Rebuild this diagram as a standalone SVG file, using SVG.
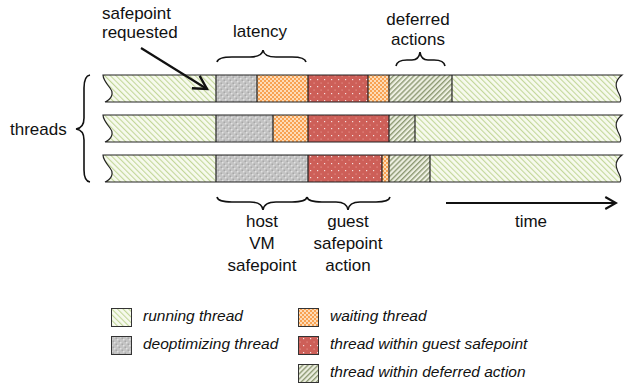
<svg xmlns="http://www.w3.org/2000/svg" width="624" height="383" viewBox="0 0 624 383">
<style>
.lbl{font-family:"Liberation Sans",Arial,sans-serif;font-size:17px;fill:#111}
.leg{font-family:"Liberation Sans",Arial,sans-serif;font-size:15.5px;font-style:italic;fill:#111}
.seg{stroke:#222;stroke-width:1.2}
.brace{fill:none;stroke:#111;stroke-width:1.6}
.outline{fill:none;stroke:#222;stroke-width:1.2}
</style>
<defs>
<pattern id="run" width="4" height="4" patternUnits="userSpaceOnUse" patternTransform="rotate(-45)">
<rect width="4" height="4" fill="#f7faee"/><rect width="1.1" height="4" fill="#c3d79a"/>
</pattern>
<pattern id="def" width="3.6" height="3.6" patternUnits="userSpaceOnUse" patternTransform="rotate(45)">
<rect width="3.6" height="3.6" fill="#eef0e2"/><rect width="1.4" height="3.6" fill="#8e9a74"/>
</pattern>
<pattern id="deopt" width="6" height="6" patternUnits="userSpaceOnUse">
<rect width="6" height="6" fill="#c4c4c4"/><rect x="0" y="0" width="1.5" height="1.5" fill="#e2e2e2"/><rect x="3" y="3" width="1.5" height="1.5" fill="#e2e2e2"/><rect x="1.5" y="1.5" width="1.5" height="1.5" fill="#a8a8a8"/><rect x="4.5" y="4.5" width="1.5" height="1.5" fill="#a8a8a8"/>
</pattern>
<pattern id="wait" width="4" height="4" patternUnits="userSpaceOnUse">
<rect width="4" height="4" fill="#fddcb8"/><rect width="2" height="2" fill="#f8a252"/><rect x="2" y="2" width="2" height="2" fill="#f8a252"/>
</pattern>
<pattern id="guest" width="7" height="7" patternUnits="userSpaceOnUse">
<rect width="7" height="7" fill="#cd5f58"/><rect x="2" y="2" width="1.2" height="1.2" fill="#fff" opacity="0.8"/><rect x="5.5" y="5.5" width="1.2" height="1.2" fill="#f2b0a8" opacity="0.6"/>
</pattern>
<marker id="ah" viewBox="0 0 12 12" refX="10" refY="6" markerWidth="8" markerHeight="8" orient="auto" markerUnits="strokeWidth">
<path d="M1,1 L10,6 L1,11" fill="none" stroke="#111" stroke-width="1.6"/>
</marker>
<marker id="ah2" viewBox="0 0 12 12" refX="10" refY="6" markerWidth="6.5" markerHeight="6.5" orient="auto" markerUnits="strokeWidth">
<path d="M1,1 L10,6 L1,11" fill="none" stroke="#111" stroke-width="1.8"/>
</marker>
</defs>

<g id="thread1">
<path d="M103,75 L216,75 L216,102 L105,102 C112,99 114,93 110,88 C106,83 103,79 103,75 Z" fill="url(#run)"/>
<rect x="216" y="75" width="41" height="27" fill="url(#deopt)"/>
<rect x="257" y="75" width="51" height="27" fill="url(#wait)"/>
<rect x="308" y="75" width="60" height="27" fill="url(#guest)"/>
<rect x="368" y="75" width="21" height="27" fill="url(#wait)"/>
<rect x="389" y="75" width="63" height="27" fill="url(#def)"/>
<path d="M452,75 L622,75 C617,79 615,84 617,89 C618,94 623,98 620,102 L452,102 Z" fill="url(#run)"/>
<path class="outline" d="M103,75 L622,75 C617,79 615,84 617,89 C618,94 623,98 620,102 L105,102 C112,99 114,93 110,88 C106,83 103,79 103,75 Z"/>
<path class="seg" d="M216,75V102M257,75V102M308,75V102M368,75V102M389,75V102M452,75V102"/>
</g>

<g id="thread2">
<path d="M103,115 L216,115 L216,142 L105,142 C112,139 114,133 110,128 C106,123 103,119 103,115 Z" fill="url(#run)"/>
<rect x="216" y="115" width="57" height="27" fill="url(#deopt)"/>
<rect x="273" y="115" width="35" height="27" fill="url(#wait)"/>
<rect x="308" y="115" width="81" height="27" fill="url(#guest)"/>
<rect x="389" y="115" width="26" height="27" fill="url(#def)"/>
<path d="M415,115 L622,115 C617,119 615,124 617,129 C618,134 623,138 620,142 L415,142 Z" fill="url(#run)"/>
<path class="outline" d="M103,115 L622,115 C617,119 615,124 617,129 C618,134 623,138 620,142 L105,142 C112,139 114,133 110,128 C106,123 103,119 103,115 Z"/>
<path class="seg" d="M216,115V142M273,115V142M308,115V142M389,115V142M415,115V142"/>
</g>

<g id="thread3">
<path d="M103,155 L216,155 L216,182 L105,182 C112,179 114,173 110,168 C106,163 103,159 103,155 Z" fill="url(#run)"/>
<rect x="216" y="155" width="92" height="27" fill="url(#deopt)"/>
<rect x="308" y="155" width="74" height="27" fill="url(#guest)"/>
<rect x="382" y="155" width="7" height="27" fill="url(#wait)"/>
<rect x="389" y="155" width="41" height="27" fill="url(#def)"/>
<path d="M430,155 L622,155 C617,159 615,164 617,169 C618,174 623,178 620,182 L430,182 Z" fill="url(#run)"/>
<path class="outline" d="M103,155 L622,155 C617,159 615,164 617,169 C618,174 623,178 620,182 L105,182 C112,179 114,173 110,168 C106,163 103,159 103,155 Z"/>
<path class="seg" d="M216,155V182M308,155V182M382,155V182M389,155V182M430,155V182"/>
</g>

<g id="connectors">
<path d="M141,48 L207,89" fill="none" stroke="#111" stroke-width="2.2" marker-end="url(#ah)"/>
<path d="M446,203 L616,203" fill="none" stroke="#111" stroke-width="2.2" marker-end="url(#ah2)"/>
</g>

<g id="braces">
<path class="brace" d="M217,62 Q218,57 232,57 L250,57 Q262,57 263,50 Q264,57 276,57 L292,57 Q305,57 306,62"/>
<path class="brace" d="M396,66 Q397,60 407,60 L412,60 Q419,60 420,52 Q421,60 428,60 L434,60 Q444,60 445,66"/>
<path class="brace" d="M217,197 Q218,202 232,202 L250,202 Q262,202 263,210 Q264,202 276,202 L292,202 Q306,202 307,197"/>
<path class="brace" d="M307,197 Q308,202 322,202 L336,202 Q347,202 348,210 Q349,202 360,202 L376,202 Q389,202 390,197"/>
<path class="brace" d="M90,75 Q84,76 84,88 L84,118 Q84,128 76,129 Q84,130 84,140 L84,170 Q84,181 90,182"/>
</g>

<g id="labels">
<text class="lbl" x="102" y="19">safepoint</text>
<text class="lbl" x="102" y="38">requested</text>
<text class="lbl" x="260" y="37" text-anchor="middle">latency</text>
<text class="lbl" x="418" y="25" text-anchor="middle">deferred</text>
<text class="lbl" x="418" y="45" text-anchor="middle">actions</text>
<text class="lbl" x="10" y="135">threads</text>
<text class="lbl" x="262" y="227" text-anchor="middle">host</text>
<text class="lbl" x="262" y="249" text-anchor="middle">VM</text>
<text class="lbl" x="262" y="271" text-anchor="middle">safepoint</text>
<text class="lbl" x="348" y="227" text-anchor="middle">guest</text>
<text class="lbl" x="348" y="249" text-anchor="middle">safepoint</text>
<text class="lbl" x="348" y="271" text-anchor="middle">action</text>
<text class="lbl" x="531" y="227" text-anchor="middle">time</text>
</g>

<g id="legend">
<rect x="111.5" y="308.5" width="20" height="18" fill="url(#run)" stroke="#333" stroke-width="1"/>
<text class="leg" x="143" y="321">running thread</text>
<rect x="111.5" y="336.5" width="20" height="18" fill="url(#deopt)" stroke="#333" stroke-width="1"/>
<text class="leg" x="143" y="349">deoptimizing thread</text>
<rect x="298.5" y="308.5" width="20" height="18" fill="url(#wait)" stroke="#333" stroke-width="1"/>
<text class="leg" x="330" y="321">waiting thread</text>
<rect x="298.5" y="336.5" width="20" height="18" fill="url(#guest)" stroke="#333" stroke-width="1"/>
<text class="leg" x="330" y="349">thread within guest safepoint</text>
<rect x="298.5" y="364.5" width="20" height="18" fill="url(#def)" stroke="#333" stroke-width="1"/>
<text class="leg" x="330" y="377">thread within deferred action</text>
</g>
</svg>
